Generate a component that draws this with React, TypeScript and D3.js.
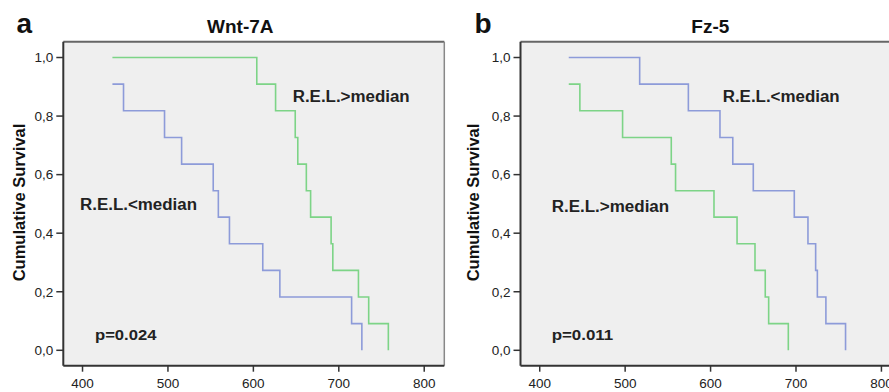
import React from "react";
import * as d3 from "d3";

// Panel a: Wnt-7A
const aHighTimes = [435, 604, 626, 649, 652, 662, 667, 691, 693, 723, 735, 758];
const aHighSurv = [1.0, 0.909, 0.818, 0.727, 0.636, 0.545, 0.455, 0.364, 0.273, 0.182, 0.091, 0.0];
const aLowTimes = [435, 448, 496, 516, 553, 559, 572, 611, 631, 715, 727];
const aLowSurv = [0.909, 0.818, 0.727, 0.636, 0.545, 0.455, 0.364, 0.273, 0.182, 0.091, 0.0];

// Panel b: Fz-5
const bLowTimes = [434, 517, 574, 611, 626, 650, 698, 714, 723, 725, 735, 758];
const bLowSurv = [1.0, 0.909, 0.818, 0.727, 0.636, 0.545, 0.455, 0.364, 0.273, 0.182, 0.091, 0.0];
const bHighTimes = [434, 447, 497, 554, 559, 604, 631, 652, 664, 668, 691];
const bHighSurv = [0.909, 0.818, 0.727, 0.636, 0.545, 0.455, 0.364, 0.273, 0.182, 0.091, 0.0];

const xTicks = [400, 500, 600, 700, 800];
const yTicks = [0, 0.2, 0.4, 0.6, 0.8, 1.0];
const yTickLabels = ["0,0", "0,2", "0,4", "0,6", "0,8", "1,0"];

const GREEN = "#7dd487";
const BLUE = "#8d9bd9";
const FONT = "'Liberation Sans', Arial, sans-serif";

type Series = { times: number[]; surv: number[]; color: string };
type Label = { text: string; x: number; y: number; w: number };

type PanelProps = {
  left: number;
  letter: string;
  letterX: number;
  title: string;
  titleX: number;
  yTitleX: number;
  series: Series[];
  labels: Label[];
  pText: string;
  pX: number;
};

function Panel(p: PanelProps) {
  const top = 41.7;
  const bottom = 365.7;
  const width = 381;
  const x = d3.scaleLinear().domain([377.5, 823.5]).range([p.left, p.left + width]);
  const y = d3.scaleLinear().domain([-0.0526, 1.054]).range([bottom, top]);
  const line = d3
    .line<[number, number]>()
    .x((d) => x(d[0]))
    .y((d) => y(d[1]))
    .curve(d3.curveStepAfter);
  return (
    <g fontFamily={FONT}>
      <text x={p.letterX} y={33.3} fontSize={28} fontWeight="bold" fill="#111">
        {p.letter}
      </text>
      <text x={p.titleX} y={32.7} fontSize={19} fontWeight="bold" textAnchor="middle" fill="#111">
        {p.title}
      </text>
      <rect x={p.left} y={top} width={width} height={bottom - top} fill="#efefef" stroke="none" />
      {p.series.map((s, i) => (
        <path
          key={i}
          d={line(s.times.map((t, j) => [t, s.surv[j]] as [number, number])) || ""}
          fill="none"
          stroke={s.color}
          strokeWidth={1.6}
        />
      ))}
      <line x1={p.left} x2={p.left + width} y1={top} y2={top} stroke="#666" strokeWidth={2} />
      <line x1={p.left + width} x2={p.left + width} y1={top} y2={bottom} stroke="#888" strokeWidth={1.5} />
      <line x1={p.left} x2={p.left} y1={top} y2={bottom} stroke="#333" strokeWidth={2} />
      <line x1={p.left} x2={p.left + width} y1={bottom} y2={bottom} stroke="#333" strokeWidth={2} />
      {yTicks.map((t, i) => (
        <g key={"y" + i}>
          <line x1={p.left - 7} x2={p.left} y1={y(t)} y2={y(t)} stroke="#333" strokeWidth={1.5} />
          <text x={p.left - 10} y={y(t) + 4.8} fontSize={13.5} textAnchor="end" fill="#222">
            {yTickLabels[i]}
          </text>
        </g>
      ))}
      {xTicks.map((t, i) => (
        <g key={"x" + i}>
          <line x1={x(t)} x2={x(t)} y1={bottom} y2={bottom + 6} stroke="#333" strokeWidth={1.5} />
          <text x={x(t)} y={387.8} fontSize={13.5} textAnchor="middle" fill="#222">
            {t}
          </text>
        </g>
      ))}
      <text
        transform={`translate(${p.yTitleX},${202.5}) rotate(-90)`}
        fontSize={16.5}
        fontWeight="bold"
        textAnchor="middle"
        fill="#111"
      >
        Cumulative Survival
      </text>
      {p.labels.map((l, i) => (
        <text
          key={"l" + i}
          x={l.x}
          y={l.y}
          fontSize={16}
          fontWeight="bold"
          fill="#222"
          textLength={l.w}
          lengthAdjust="spacingAndGlyphs"
        >
          {l.text}
        </text>
      ))}
      <text x={p.pX} y={340} fontSize={15.5} fontWeight="bold" fill="#222" textLength={61.5} lengthAdjust="spacingAndGlyphs">
        {p.pText}
      </text>
    </g>
  );
}

export default function App() {
  return (
    <svg
      width={889}
      height={392}
      style={{ position: "absolute", left: 0, top: 0, display: "block", background: "#fff" }}
    >
      <Panel
        left={63.3}
        letter="a"
        letterX={16.5}
        title="Wnt-7A"
        titleX={240.3}
        yTitleX={25}
        series={[
          { times: aLowTimes, surv: aLowSurv, color: BLUE },
          { times: aHighTimes, surv: aHighSurv, color: GREEN },
        ]}
        labels={[
          { text: "R.E.L.>median", x: 292.7, y: 101.7, w: 117 },
          { text: "R.E.L.<median", x: 80, y: 210, w: 117 },
        ]}
        pText="p=0.024"
        pX={95}
      />
      <Panel
        left={520.5}
        letter="b"
        letterX={474.5}
        title="Fz-5"
        titleX={710.3}
        yTitleX={479}
        series={[
          { times: bHighTimes, surv: bHighSurv, color: GREEN },
          { times: bLowTimes, surv: bLowSurv, color: BLUE },
        ]}
        labels={[
          { text: "R.E.L.<median", x: 722.7, y: 101.7, w: 117 },
          { text: "R.E.L.>median", x: 551.7, y: 211.7, w: 117.5 },
        ]}
        pText="p=0.011"
        pX={551.7}
      />
    </svg>
  );
}
